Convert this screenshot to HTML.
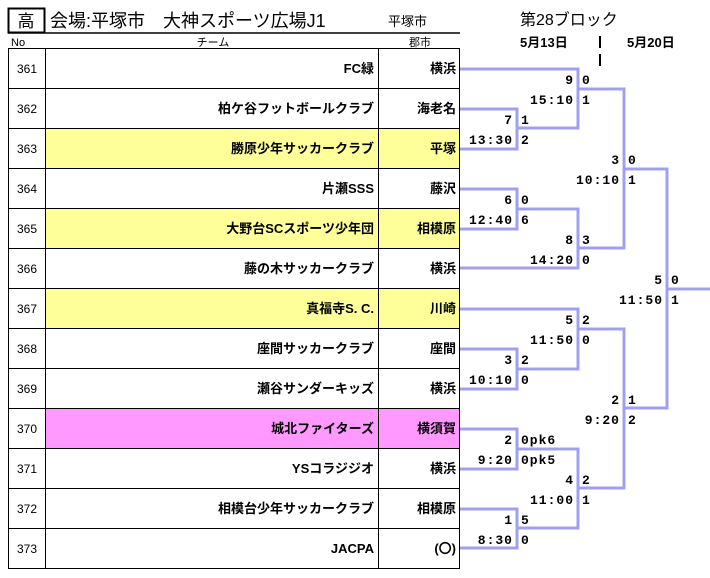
<!DOCTYPE html>
<html><head><meta charset="utf-8"><style>
body{margin:0;background:#fff;width:710px;height:573px;overflow:hidden}
svg text{font-family:"Liberation Sans","Noto Sans CJK JP",sans-serif}
svg .s text{font-size:13px;font-weight:bold;font-family:"Liberation Mono","Noto Sans CJK JP",monospace;letter-spacing:1px}
</style></head><body>
<svg width="710" height="573" xmlns="http://www.w3.org/2000/svg">
<!-- header -->
<rect x="8.5" y="8.5" width="36" height="24" fill="none" stroke="#000" stroke-width="2"/>
<text x="26" y="27" font-size="17" text-anchor="middle">高</text>
<text x="50" y="27" font-size="18">会場:平塚市　大神スポーツ広場J1</text>
<text x="388" y="26" font-size="13">平塚市</text>
<line x1="8" y1="33" x2="460" y2="33" stroke="#000" stroke-width="1.5"/>
<text x="11" y="46" font-size="11">No</text>
<text x="213" y="46" font-size="11" text-anchor="middle">チーム</text>
<text x="420" y="46" font-size="11" text-anchor="middle">郡市</text>
<text x="520" y="25" font-size="16">第28ブロック</text>
<text x="520" y="47" font-size="13" font-weight="bold">5月13日</text>
<text x="627" y="47" font-size="13" font-weight="bold">5月20日</text>
<line x1="600" y1="36" x2="600" y2="48" stroke="#000" stroke-width="2"/>
<line x1="600" y1="54" x2="600" y2="66" stroke="#000" stroke-width="2"/>
<!-- rows -->
<g id="rows" font-size="13">
<rect x="45" y="128" width="415" height="40" fill="#ffff99"/>
<rect x="45" y="208" width="415" height="40" fill="#ffff99"/>
<rect x="45" y="288" width="415" height="40" fill="#ffff99"/>
<rect x="45" y="408" width="415" height="40" fill="#ff99ff"/>
<rect x="8.5" y="48.5" width="451" height="520" fill="none" stroke="#000"/>
<line x1="45.5" y1="48" x2="45.5" y2="569" stroke="#000"/>
<line x1="378.5" y1="48" x2="378.5" y2="569" stroke="#000"/>
<g stroke="#000">
<line x1="8" y1="88.5" x2="460" y2="88.5"/><line x1="8" y1="128.5" x2="460" y2="128.5"/>
<line x1="8" y1="168.5" x2="460" y2="168.5"/><line x1="8" y1="208.5" x2="460" y2="208.5"/>
<line x1="8" y1="248.5" x2="460" y2="248.5"/><line x1="8" y1="288.5" x2="460" y2="288.5"/>
<line x1="8" y1="328.5" x2="460" y2="328.5"/><line x1="8" y1="368.5" x2="460" y2="368.5"/>
<line x1="8" y1="408.5" x2="460" y2="408.5"/><line x1="8" y1="448.5" x2="460" y2="448.5"/>
<line x1="8" y1="488.5" x2="460" y2="488.5"/><line x1="8" y1="528.5" x2="460" y2="528.5"/>
</g>
<g font-size="12" text-anchor="middle">
<text x="27" y="73">361</text><text x="27" y="113">362</text><text x="27" y="153">363</text>
<text x="27" y="193">364</text><text x="27" y="233">365</text><text x="27" y="273">366</text>
<text x="27" y="313">367</text><text x="27" y="353">368</text><text x="27" y="393">369</text>
<text x="27" y="433">370</text><text x="27" y="473">371</text><text x="27" y="513">372</text>
<text x="27" y="553">373</text>
</g>
<g text-anchor="end" font-weight="bold">
<text x="374" y="73">FC緑</text><text x="374" y="113">柏ケ谷フットボールクラブ</text>
<text x="374" y="153">勝原少年サッカークラブ</text><text x="374" y="193">片瀬SSS</text>
<text x="374" y="233">大野台SCスポーツ少年団</text><text x="374" y="273">藤の木サッカークラブ</text>
<text x="374" y="313">真福寺S. C.</text><text x="374" y="353">座間サッカークラブ</text>
<text x="374" y="393">瀬谷サンダーキッズ</text><text x="374" y="433">城北ファイターズ</text>
<text x="374" y="473">YSコラジジオ</text><text x="374" y="513">相模台少年サッカークラブ</text>
<text x="374" y="553">JACPA</text>
<text x="456" y="73">横浜</text><text x="456" y="113">海老名</text><text x="456" y="153">平塚</text>
<text x="456" y="193">藤沢</text><text x="456" y="233">相模原</text><text x="456" y="273">横浜</text>
<text x="456" y="313">川崎</text><text x="456" y="353">座間</text><text x="456" y="393">横浜</text>
<text x="456" y="433">横須賀</text><text x="456" y="473">横浜</text><text x="456" y="513">相模原</text>
<text x="456" y="553">(〇)</text>
</g>
</g>
<!-- bracket -->
<g fill="none" stroke="#a0a0f0" stroke-width="3">
<polyline points="460,69 578,69 578,128 517,128"/>
<polyline points="460,109 517,109 517,149 460,149"/>
<polyline points="460,189 517,189 517,229 460,229"/>
<polyline points="517,209 578,209 578,268 460,268"/>
<polyline points="578,89 624,89 624,248 578,248"/>
<polyline points="624,169 667,169 667,408 624,408"/>
<line x1="667" y1="289" x2="710" y2="289"/>
<polyline points="460,309 578,309 578,369 517,369"/>
<polyline points="460,349 517,349 517,389 460,389"/>
<polyline points="578,329 624,329 624,488 578,488"/>
<polyline points="460,429 517,429 517,469 460,469"/>
<polyline points="517,449 578,449 578,528 517,528"/>
<polyline points="460,509 517,509 517,548 460,548"/>
</g>
<g class="s">
<g text-anchor="end">
<text x="513" y="124">7</text><text x="513" y="144">13:30</text>
<text x="574" y="84">9</text><text x="574" y="104">15:10</text>
<text x="513" y="204">6</text><text x="513" y="224">12:40</text>
<text x="574" y="244">8</text><text x="574" y="264">14:20</text>
<text x="620" y="164">3</text><text x="620" y="184">10:10</text>
<text x="663" y="284">5</text><text x="663" y="304">11:50</text>
<text x="574" y="324">5</text><text x="574" y="344">11:50</text>
<text x="513" y="364">3</text><text x="513" y="384">10:10</text>
<text x="620" y="404">2</text><text x="620" y="424">9:20</text>
<text x="513" y="444">2</text><text x="513" y="464">9:20</text>
<text x="574" y="484">4</text><text x="574" y="504">11:00</text>
<text x="513" y="524">1</text><text x="513" y="544">8:30</text>
</g>
<text x="521" y="124">1</text><text x="521" y="144">2</text>
<text x="582" y="84">0</text><text x="582" y="104">1</text>
<text x="521" y="204">0</text><text x="521" y="224">6</text>
<text x="582" y="244">3</text><text x="582" y="264">0</text>
<text x="628" y="164">0</text><text x="628" y="184">1</text>
<text x="671" y="284">0</text><text x="671" y="304">1</text>
<text x="582" y="324">2</text><text x="582" y="344">0</text>
<text x="521" y="364">2</text><text x="521" y="384">0</text>
<text x="628" y="404">1</text><text x="628" y="424">2</text>
<text x="521" y="444">0pk6</text><text x="521" y="464">0pk5</text>
<text x="582" y="484">2</text><text x="582" y="504">1</text>
<text x="521" y="524">5</text><text x="521" y="544">0</text>
</g>
</svg>
</body></html>
